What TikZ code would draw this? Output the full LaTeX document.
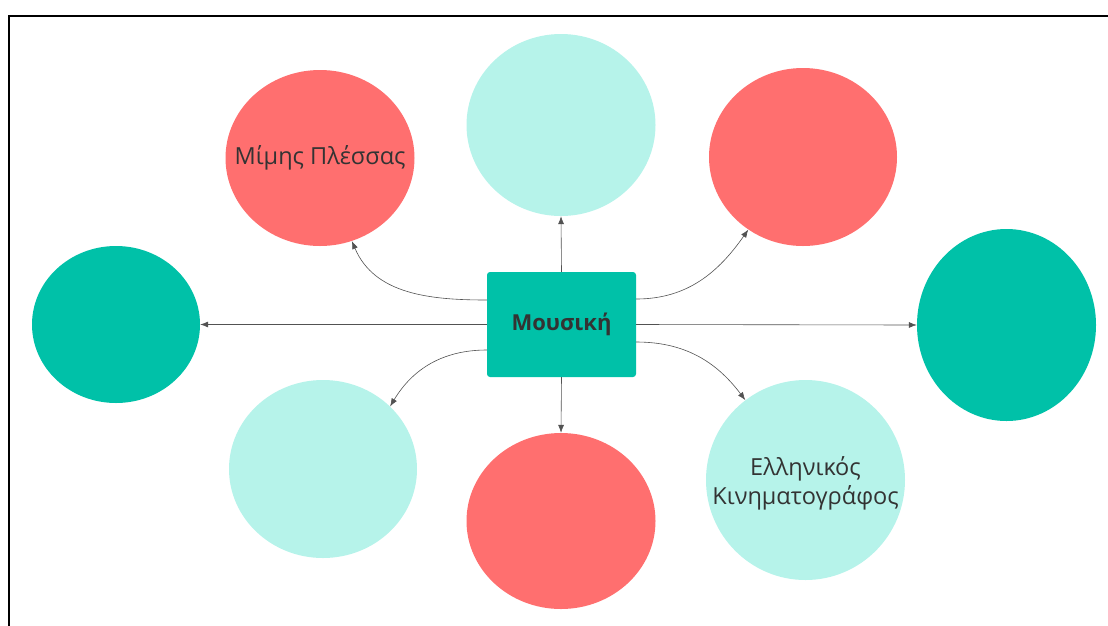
\documentclass[tikz,border=0pt]{standalone}
\usepackage{fontspec}
\setmainfont{Open Sans}
\usepackage{tikz}
\usetikzlibrary{positioning, arrows.meta,
shapes.geometric % for the round bubbles
}
\definecolor{bubblered}{RGB}{255,111,111}
\definecolor{bubblelight}{RGB}{182,243,234}
\definecolor{bubbleteal}{RGB}{0,193,168}
\definecolor{inkgrey}{RGB}{51,51,51}
\tikzset{%
  bubble/.style={shape=ellipse, inner sep=0pt}, % one round idea around the topic
  bubbletext/.style={text=inkgrey, align=center, font=\fontsize{23.5}{29}\selectfont},
  topic/.style={rectangle, rounded corners=3pt, fill=bubbleteal,
    minimum width=149pt, minimum height=105pt, text=inkgrey,
    font=\fontsize{22}{26}\selectfont\bfseries},
  link/.style={draw=inkgrey!85, line width=0.6pt, ->, >={Latex[length=8pt, width=6pt]}}
}

\begin{document}
\begin{tikzpicture}[x=1pt, y=-1pt]
\useasboundingbox (0,0) rectangle (1108,625);
\draw[line width=2pt] (1110,16) -- (9,16) -- (9,627);

\node[topic] (mus) at (561.5,324.5) {Μουσική};

\node[bubble, fill=bubblered, minimum width=189pt, minimum height=176pt] (e0) at (320,158) {};
\node[bubble, fill=bubblelight, minimum width=189pt, minimum height=182pt] (e1) at (561,125) {};
\node[bubble, fill=bubblered, minimum width=188pt, minimum height=178pt] (e2) at (803,157) {};
\node[bubble, fill=bubbleteal, minimum width=168pt, minimum height=157pt] (e3) at (116,324.5) {};
\node[bubble, fill=bubbleteal, minimum width=179pt, minimum height=192pt] (e4) at (1006.5,325) {};
\node[bubble, fill=bubblelight, minimum width=188pt, minimum height=178pt] (e5) at (323,469) {};
\node[bubble, fill=bubblered, minimum width=189pt, minimum height=176pt] (e6) at (561,521) {};
\node[bubble, fill=bubblelight, minimum width=199pt, minimum height=200pt] (e7) at (805.5,480) {};

\node[bubbletext] (t0) at (e0) {Μίμης Πλέσσας};
\node[bubbletext] (t7) at ([yshift=-3pt]e7.center) {Ελληνικός\\Κινηματογράφος};

\draw[link] (mus.north) -- (e1.south);
\draw[link] (mus.south) -- (e6.north);
\draw[link] (mus.west) -- (e3.east);
\draw[link] (mus.east) -- (e4.west);
\draw[link] ([yshift=24.5pt]mus.west) to[out=180, in=-67] (e0.-69);
\draw[link] ([yshift=25.5pt]mus.east) to[out=0, in=-125] (e2.-127);
\draw[link] ([yshift=-25.5pt]mus.west) to[out=180, in=59] (e5.43);
\draw[link] ([yshift=-17.5pt]mus.east) to[out=0, in=127] (e7.127);

\end{tikzpicture}
\end{document}
